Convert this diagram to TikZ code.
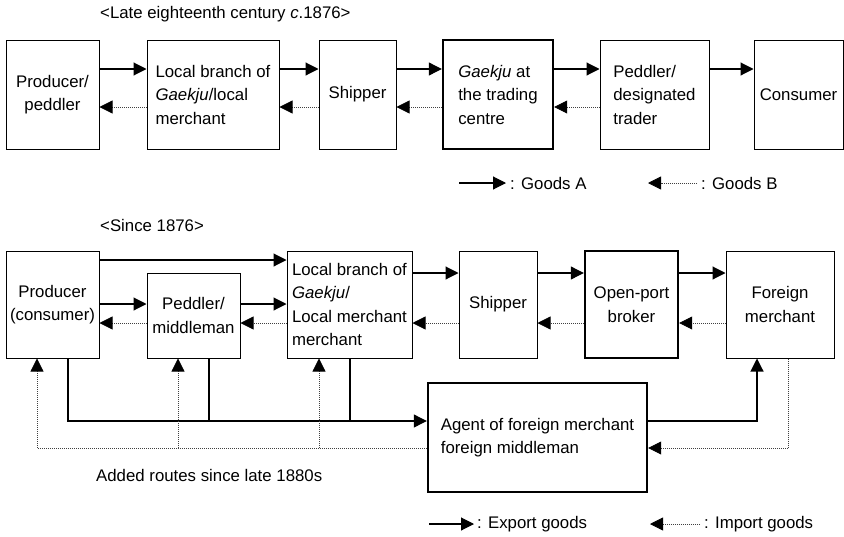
\documentclass[tikz,border=0pt]{standalone}
\usepackage{fontspec}
\setmainfont{Liberation Sans}
\usetikzlibrary{arrows.meta}

\begin{document}
\begin{tikzpicture}[x=1pt, y=-1pt,
		txt/.style={font=\fontsize{16.8}{23.5}\selectfont},
		box/.style={txt, draw, line width=1pt, align=center, inner sep=2pt},
		boxl/.style={box, align=left},
		heavy/.style={line width=2.4pt},
		goodsA/.style={line width=1.1pt, -{Triangle[length=13pt,width=13pt]}},
		goodsB/.style={line width=0.8pt, black!75, dash pattern=on 1pt off 1pt, -{Triangle[length=13pt,width=13pt,color=black]}},
		feed/.style={line width=1.1pt}]
		\useasboundingbox (0,0) rectangle (844,536);
		
		% late eighteenth century
		\node[txt, anchor=west, inner sep=0] (ttlA) at (100,14) {<Late eighteenth century \textit{c}.1876>};
		\node[box, minimum width=93pt, minimum height=109pt] (prod) at (52.5,94.5) {Producer/\\peddler};
		\node[boxl, minimum width=132pt, minimum height=109pt] (loc) at (213,94.5) {Local branch of\\\textit{Gaekju}/local\\merchant};
		\node[box, minimum width=77pt, minimum height=109pt] (ship) at (357.5,94.5) {Shipper};
		\node[boxl, heavy, minimum width=110pt, minimum height=109pt] (gaek) at (498,94.5) {\textit{Gaekju} at\\the trading\\centre};
		\node[boxl, minimum width=109pt, minimum height=109pt] (ped) at (654.5,94.5) {Peddler/\\designated\\trader};
		\node[box, minimum width=89pt, minimum height=109pt] (cons) at (798.5,94.5) {Consumer};
		
		\coordinate (ya) at (0,69);
		\coordinate (yb) at (0,107);
		\foreach \a/\b in {prod/loc, loc/ship, ship/gaek, gaek/ped, ped/cons}
		{
			\draw[goodsA] (\a.east |- ya) -- (\b.west |- ya);
		}
		\foreach \a/\b in {prod/loc, loc/ship, ship/gaek, gaek/ped}
		{
			\draw[goodsB] (\b.west |- yb) -- (\a.east |- yb);
		}
		
		\coordinate (lgAs) at (459,183);
		\node[txt, anchor=west, inner sep=4pt] (lgA) at (506,183) {: Goods A};
		\draw[goodsA] (lgAs) -- (lgA.west);
		\coordinate (lgBe) at (648,183);
		\node[txt, anchor=west, inner sep=4pt] (lgB) at (697,183) {: Goods B};
		\draw[goodsB] (lgB.west) -- (lgBe);
		
		% since 1876
		\node[txt, anchor=west, inner sep=0] (ttlB) at (100,225) {<Since 1876>};
		\node[box, minimum width=93pt, minimum height=107pt] (prodB) at (52.5,304.5) {Producer\\(consumer)};
		\node[box, minimum width=93pt, minimum height=85pt] (pedB) at (193.5,315.5) {Peddler/\\middleman};
		\node[boxl, minimum width=125pt, minimum height=107pt] (locB) at (349.5,304.5) {Local branch of\\\textit{Gaekju}/\\Local merchant\\merchant};
		\node[box, minimum width=78pt, minimum height=107pt] (shipB) at (498,304.5) {Shipper};
		\node[box, heavy, minimum width=93pt, minimum height=107pt] (brok) at (631.5,304.5) {Open-port\\broker};
		\node[box, minimum width=108pt, minimum height=107pt] (forn) at (780,304.5) {Foreign\\merchant};
		\node[boxl, heavy, minimum width=219pt, minimum height=109pt] (agent) at (537.5,437.5) {Agent of foreign merchant\\foreign middleman};
		
		\coordinate (yc) at (0,260);
		\coordinate (yd) at (0,273);
		\coordinate (ye) at (0,304);
		\coordinate (yf) at (0,323);
		\coordinate (yg) at (0,421);
		\coordinate (yh) at (0,448);
		\coordinate (xa) at (68,0);
		\coordinate (xb) at (209,0);
		\coordinate (xc) at (350,0);
		\coordinate (xd) at (757,0);
		\coordinate (xe) at (788,0);
		\coordinate (xf) at (37,0);
		\coordinate (xg) at (178,0);
		\coordinate (xh) at (319,0);
		
		\draw[goodsA] (prodB.east |- yc) -- (locB.west |- yc);
		\draw[goodsA] (prodB.east |- ye) -- (pedB.west |- ye);
		\draw[goodsA] (pedB.east |- ye) -- (locB.west |- ye);
		\foreach \a/\b in {locB/shipB, shipB/brok, brok/forn}
		{
			\draw[goodsA] (\a.east |- yd) -- (\b.west |- yd);
		}
		\foreach \a/\b in {prodB/pedB, pedB/locB, locB/shipB, shipB/brok, brok/forn}
		{
			\draw[goodsB] (\b.west |- yf) -- (\a.east |- yf);
		}
		
		% routes through the agent
		\draw[goodsA] (prodB.south -| xa) |- (agent.west |- yg);
		\draw[feed] (pedB.south -| xb) -- (xb |- yg);
		\draw[feed] (locB.south -| xc) -- (xc |- yg);
		\draw[goodsA] (agent.east |- yg) -| (forn.south -| xd);
		\draw[goodsB] (forn.south -| xe) |- (agent.east |- yh);
		\draw[goodsB] (agent.west |- yh) -| (prodB.south -| xf);
		\draw[goodsB] (xg |- yh) -- (pedB.south -| xg);
		\draw[goodsB] (xh |- yh) -- (locB.south -| xh);
		\node[txt, anchor=west, inner sep=0] (added) at (96,475) {Added routes since late 1880s};
		
		\coordinate (lgCs) at (429,524);
		\node[txt, anchor=west, inner sep=3pt] (lgC) at (474,524) {: Export goods};
		\draw[goodsA] (lgCs) -- (lgC.west);
		\coordinate (lgDe) at (650,524);
		\node[txt, anchor=west, inner sep=4pt] (lgD) at (700,524) {: Import goods};
		\draw[goodsB] (lgD.west) -- (lgDe);
		
	\end{tikzpicture}
\end{document}
